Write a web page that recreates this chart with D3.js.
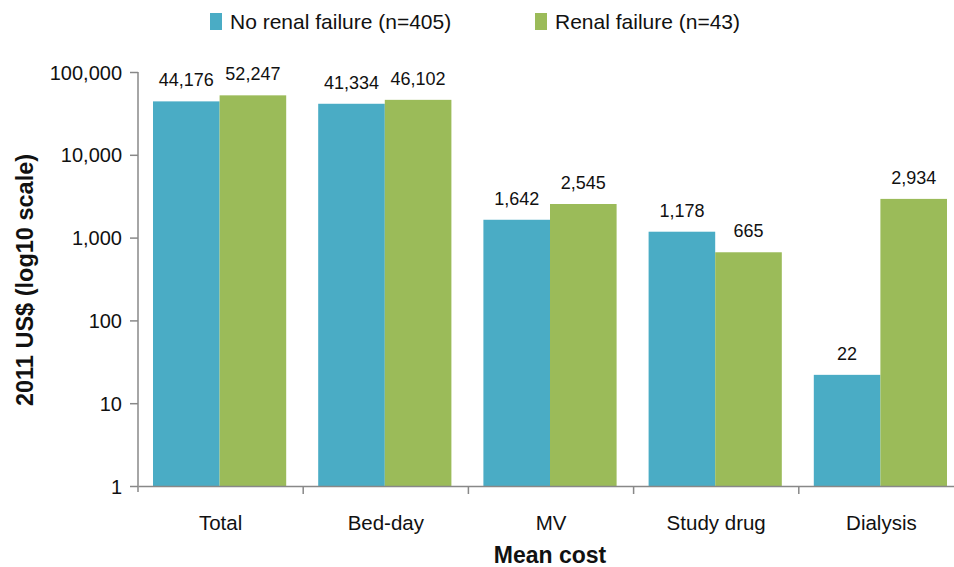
<!DOCTYPE html>
<html>
<head>
<meta charset="utf-8">
<script src="https://cdn.jsdelivr.net/npm/d3@7"></script>
<style>
  body { margin: 0; background: #fff; }
  svg text { font-family: "Liberation Sans", Arial, sans-serif; fill: #111; }
</style>
</head>
<body>
<div id="chart"></div>
<script>
// chart values
var categories = ["Total", "Bed-day", "MV", "Study drug", "Dialysis"];
var seriesNames = ["No renal failure (n=405)", "Renal failure (n=43)"];
var noRenal = [44176, 41334, 1642, 1178, 22];
var renal = [52247, 46102, 2545, 665, 2934];
var yTicks = [1, 10, 100, 1000, 10000, 100000];

var width = 954, height = 567;
var colors = ["#4aacc5", "#9bbb59"];

var svg = d3.select("#chart").append("svg")
    .attr("width", width)
    .attr("height", height);

var y = d3.scaleLog()
    .domain([1, 100000])
    .range([486, 72]);

var x = d3.scaleBand()
    .domain(categories)
    .range([138, 964])
    .paddingInner(0)
    .paddingOuter(0);

var inner = d3.scaleBand()
    .domain([0, 1])
    .range([15, x.bandwidth() - 17]);

var fmt = d3.format(",");

// bars
var data = [];
categories.forEach(function(c, i){
    data.push({cat: c, s: 0, v: noRenal[i]});
    data.push({cat: c, s: 1, v: renal[i]});
});

svg.selectAll(".bar")
    .data(data)
    .join("rect")
    .attr("class", "bar")
    .attr("x", function(d){ return x(d.cat) + inner(d.s); })
    .attr("width", inner.bandwidth())
    .attr("y", function(d){ return y(d.v); })
    .attr("height", function(d){ return y(1) - y(d.v); })
    .attr("fill", function(d){ return colors[d.s]; });

svg.selectAll(".val")
    .data(data)
    .join("text")
    .attr("class", "val")
    .attr("x", function(d){ return x(d.cat) + inner(d.s) + inner.bandwidth() / 2; })
    .attr("y", function(d){ return y(d.v) - 15; })
    .attr("text-anchor", "middle")
    .style("font-size", "18px")
    .text(function(d){ return fmt(d.v); });

// y axis
var yAxis = svg.append("g")
    .attr("transform", "translate(138,0)")
    .call(d3.axisLeft(y).tickValues(yTicks).tickFormat(fmt).tickSize(8).tickSizeOuter(0));
yAxis.select(".domain").attr("stroke", "#888").attr("stroke-width", 1.5)
    .attr("d", "M0,72V492");
yAxis.selectAll(".tick line").attr("stroke", "#888").attr("stroke-width", 1.5);
yAxis.selectAll(".tick text").style("font-size", "20px").attr("x", -16).attr("dy", "0.35em");

// x axis
var xAxis = svg.append("g")
    .attr("transform", "translate(0,486)")
    .call(d3.axisBottom(x).tickSize(0).tickSizeOuter(0));
xAxis.select(".domain").attr("stroke", "#888").attr("stroke-width", 1.5);
xAxis.selectAll(".tick text").style("font-size", "20.5px").attr("y", 44).attr("dy", 0);

svg.selectAll(".xsep")
    .data(categories.slice(1))
    .join("line")
    .attr("class", "xsep")
    .attr("x1", function(d){ return x(d); })
    .attr("x2", function(d){ return x(d); })
    .attr("y1", 486)
    .attr("y2", 494)
    .attr("stroke", "#888")
    .attr("stroke-width", 1.5);

// axis titles
svg.append("text")
    .attr("transform", "translate(33,280) rotate(-90)")
    .attr("text-anchor", "middle")
    .style("font-size", "23.5px")
    .style("font-weight", "bold")
    .text("2011 US$ (log10 scale)");

svg.append("text")
    .attr("x", 550)
    .attr("y", 563)
    .attr("text-anchor", "middle")
    .style("font-size", "23px")
    .style("font-weight", "bold")
    .text("Mean cost");

// legend
var legendX = [210, 535];
var legend = svg.selectAll(".legend")
    .data(seriesNames)
    .join("g")
    .attr("class", "legend")
    .attr("transform", function(d, i){ return "translate(" + legendX[i] + ",13)"; });
legend.append("rect")
    .attr("width", 12)
    .attr("height", 17)
    .attr("fill", function(d, i){ return colors[i]; });
legend.append("text")
    .attr("x", 20)
    .attr("y", 16)
    .style("font-size", "21px")
    .text(function(d){ return d; });
</script>
</body>
</html>
